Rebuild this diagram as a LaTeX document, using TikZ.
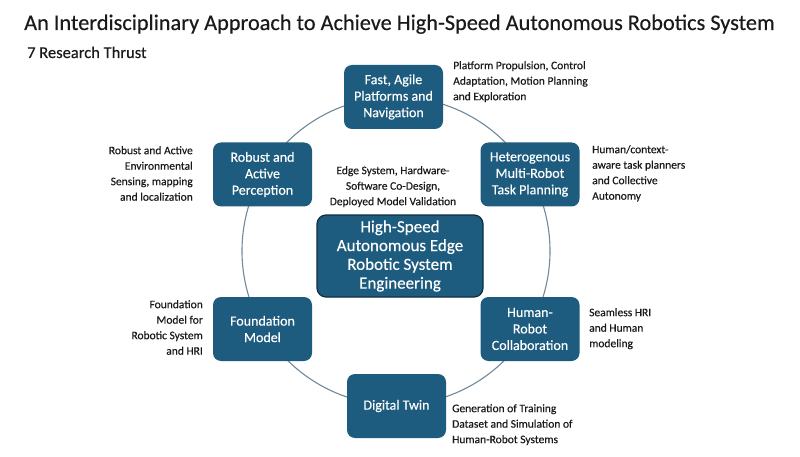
\documentclass[tikz,border=0pt]{standalone}
\usepackage{fontspec}
\setmainfont{Carlito}[RawFeature={embolden=0.35}]
\definecolor{boxfill}{HTML}{1D5C7E}
\definecolor{boxedge}{HTML}{0E2E42}
\definecolor{ringcol}{HTML}{71899A}
\definecolor{txt}{HTML}{1A1A1A}
\begin{document}
\begin{tikzpicture}[x=1pt,y=-1pt,
  thrust/.style={draw=none,fill=boxfill,rounded corners=8pt,text=white,
    minimum width=99pt,minimum height=64pt,inner sep=0pt,align=center,
    font=\fontsize{14}{16.5}\selectfont},
  hub/.style={draw=boxedge,line width=1.2pt,fill=boxfill,rounded corners=9pt,text=white,
    minimum width=166pt,minimum height=82pt,inner sep=0pt,align=center,
    font=\fontsize{17}{18.8}\selectfont},
  note/.style={inner sep=0pt,text=txt,font=\fontsize{11.5}{15.5}\selectfont},
  ring/.style={draw=ringcol,line width=1.1pt}]
\useasboundingbox (0,0) rectangle (800,457);
\fill[white] (0,0) rectangle (800,457);
\node[anchor=base west,inner sep=0pt,text=txt,font=\fontsize{22.3}{25}\selectfont] (title) at (24,30)
  {An Interdisciplinary Approach to Achieve High-Speed Autonomous Robotics System};
\node[anchor=base west,inner sep=0pt,text=txt,font=\fontsize{16.5}{19}\selectfont] (sub) at (27,58)
  {7 Research Thrust};
\coordinate (c) at (396,251);
\draw[ring] (c) circle[radius=154pt];
\node[hub] (hubn) at (400,256) {High-Speed\\Autonomous Edge\\Robotic System\\Engineering};
\node[thrust] (fast) at (393.5,97) {Fast, Agile\\Platforms and\\Navigation};
\node[thrust] (percep) at (262.5,174.5) {Robust and\\Active\\Perception};
\node[thrust] (hetero) at (530,174.5) {Heterogenous\\Multi-Robot\\Task Planning};
\node[thrust] (found) at (262.5,329) {Foundation\\Model};
\node[thrust] (hrc) at (530,329) {Human-\\Robot\\Collaboration};
\node[thrust] (twin) at (396.5,406) {Digital Twin};
\node[note,anchor=north west,align=left] (nfast) at (453,61)
  {Platform Propulsion, Control\\Adaptation, Motion Planning\\and Exploration};
\node[note,anchor=north east,align=right] (npercep) at (193,146)
  {Robust and Active\\Environmental\\Sensing, mapping\\and localization};
\node[note,anchor=north,align=center] (nedge) at (393,166)
  {Edge System, Hardware-\\Software Co-Design,\\Deployed Model Validation};
\node[note,anchor=north west,align=left] (nhetero) at (592,145)
  {Human/context-\\aware task planners\\and Collective\\Autonomy};
\node[note,anchor=north east,align=right] (nfound) at (203,300)
  {Foundation\\Model for\\Robotic System\\and HRI};
\node[note,anchor=north west,align=left] (nhrc) at (589,308)
  {Seamless HRI\\and Human\\modeling};
\node[note,anchor=north west,align=left] (ntwin) at (452,404)
  {Generation of Training\\Dataset and Simulation of\\Human-Robot Systems};
\end{tikzpicture}
\end{document}
